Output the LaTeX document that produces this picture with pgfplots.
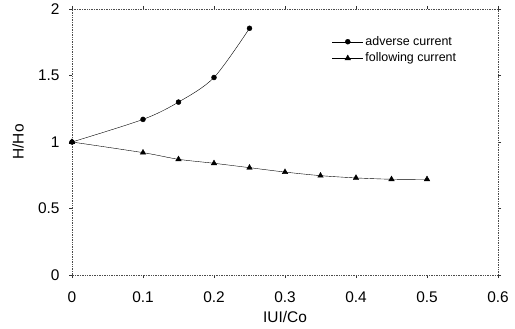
\documentclass[border=0pt]{standalone}
\usepackage{pgfplots}
\pgfplotsset{compat=1.18}
\usetikzlibrary{calc}
\usepackage{fontspec}
\setmainfont{Liberation Sans}
\begin{document}
\begin{tikzpicture}
\begin{axis}[
  scale only axis,
  width=426bp, height=266bp,
  xmin=0, xmax=0.6, ymin=0, ymax=2,
  xtick={0,0.1,0.2,0.3,0.4,0.5,0.6},
  ytick={0,0.5,1,1.5,2},
  xticklabels={0,0.1,0.2,0.3,0.4,0.5,0.6},
  yticklabels={0,0.5,1,1.5,2},
  tick style={black!80, thin},
  tick align=outside,
  major tick length=3bp,
  axis line style={black!70, densely dotted, line width=0.7pt},
  ticklabel style={font=\fontsize{15.5}{17}\selectfont},
  xticklabel style={yshift=-10bp},
  yticklabel style={xshift=-6bp},
  xlabel={IUI/Co},
  ylabel={H/Ho},
  label style={font=\fontsize{15.5}{17}\selectfont},
  xlabel style={at={(axis description cs:0.5,0)}, anchor=north, yshift=-33bp},
  ylabel style={at={(axis description cs:0,0.5)}, anchor=center, yshift=54bp},
  legend style={draw=none, fill=none, at={(0.61,0.905)}, anchor=north west,
    font=\fontsize{12.5}{14}\selectfont, row sep=2bp, inner sep=0pt},
  legend cell align=left,
  legend image code/.code={\draw[mark repeat=2,mark phase=2,#1] plot coordinates {(0bp,0bp) (15.5bp,0bp) (31bp,0bp)};},
  clip=false,
]
\addplot[black, thin, smooth, mark=*, mark size=2.5bp] coordinates {
  (0,1) (0.1,1.17) (0.15,1.30) (0.2,1.485) (0.25,1.855)
};
\addlegendentry{adverse current}
\addplot[black, thin, smooth, mark=triangle*, mark size=3.2bp] coordinates {
  (0,1) (0.1,0.92) (0.15,0.87) (0.2,0.84) (0.25,0.807) (0.3,0.774)
  (0.35,0.747) (0.4,0.73) (0.45,0.72) (0.5,0.72)
};
\addlegendentry{following current}
\end{axis}
\pgfresetboundingbox
\path[use as bounding box] ($(current axis.south west)+(-72bp,-54bp)$) rectangle ($(current axis.north east)+(17bp,9bp)$);
\end{tikzpicture}
\end{document}
